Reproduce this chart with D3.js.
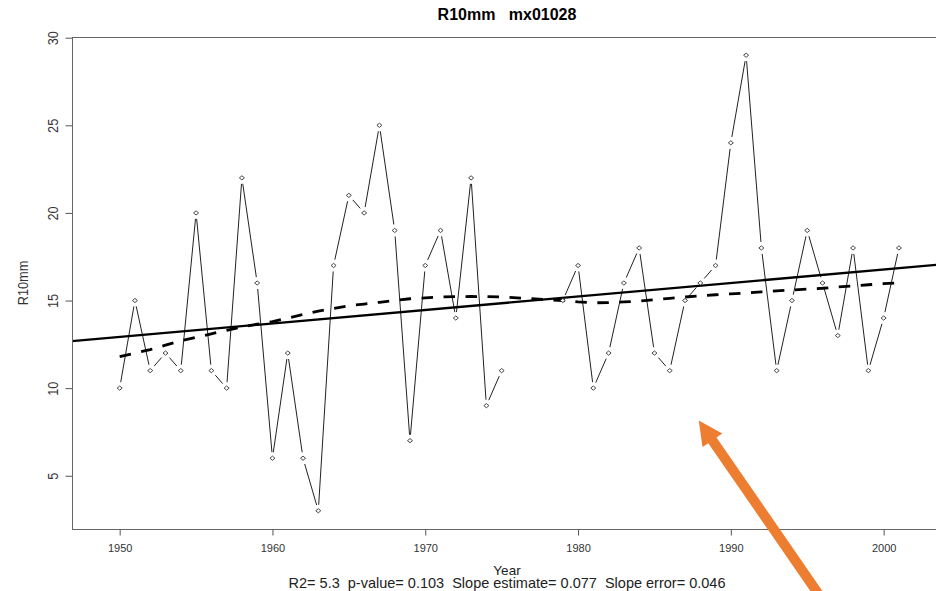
<!DOCTYPE html>
<html>
<head>
<meta charset="utf-8">
<script src="https://cdn.jsdelivr.net/npm/d3@7"></script>
<style>
  body { margin: 0; background: #fff; }
  svg { display: block; font-family: "Liberation Sans", Arial, sans-serif; }
</style>
</head>
<body>
<div id="chart"></div>
<script>
// Annual R10mm counts, station mx01028 (1976-1978 missing)
const years = [1950, 1951, 1952, 1953, 1954, 1955, 1956, 1957, 1958, 1959,
               1960, 1961, 1962, 1963, 1964, 1965, 1966, 1967, 1968, 1969,
               1970, 1971, 1972, 1973, 1974, 1975, 1976, 1977, 1978, 1979,
               1980, 1981, 1982, 1983, 1984, 1985, 1986, 1987, 1988, 1989,
               1990, 1991, 1992, 1993, 1994, 1995, 1996, 1997, 1998, 1999,
               2000, 2001];
const r10mm = [10, 15, 11, 12, 11, 20, 11, 10, 22, 16,
               6, 12, 6, 3, 17, 21, 20, 25, 19, 7,
               17, 19, 14, 22, 9, 11, null, null, null, 15,
               17, 10, 12, 16, 18, 12, 11, 15, 16, 17,
               24, 29, 18, 11, 15, 19, 16, 13, 18, 11,
               14, 18];
// lowess smooth (dashed line)
const lowessFit = [11.8, 12.0, 12.2, 12.45, 12.7, 12.9, 13.1, 13.3, 13.5, 13.65,
                   13.8, 14.0, 14.2, 14.4, 14.55, 14.7, 14.8, 14.9, 15.0, 15.1,
                   15.15, 15.2, 15.22, 15.23, 15.22, 15.2, null, null, null, 15.0,
                   14.92, 14.87, 14.88, 14.92, 14.97, 15.05, 15.12, 15.2, 15.27, 15.33,
                   15.38, 15.43, 15.49, 15.55, 15.6, 15.65, 15.7, 15.77, 15.84, 15.9,
                   15.96, 16.0];
// linear trend
const trendAt1950 = 12.92;
const trendSlope = 0.077;

const xTicks = [1950, 1960, 1970, 1980, 1990, 2000];
const yTicks = [5, 10, 15, 20, 25, 30];
const titleText = 'R10mm   mx01028';
const xLabel = 'Year';
const yLabel = 'R10mm';
const statsText = 'R2= 5.3  p-value= 0.103  Slope estimate= 0.077  Slope error= 0.046';

const width = 936, height = 591;
const box = { left: 72, right: 942, top: 37, bottom: 529 };

const x = d3.scaleLinear().domain([1946.88, 2003.82]).range([box.left, box.right]);
const y = d3.scaleLinear().domain([1.96, 30.04]).range([box.bottom, box.top]);

const svg = d3.select('#chart').append('svg')
    .attr('width', width)
    .attr('height', height);

svg.append('defs').append('clipPath')
    .attr('id', 'plot-clip')
    .append('rect')
    .attr('x', box.left).attr('y', box.top)
    .attr('width', box.right - box.left)
    .attr('height', box.bottom - box.top);

const data = years.map((yr, i) => ({ year: yr, value: r10mm[i], fit: lowessFit[i] }));

// Observed series, R type="b": segments with a gap around each point
const gap = 6;
const segs = [];
for (let i = 1; i < data.length; i++) {
    const a = data[i - 1], b = data[i];
    if (a.value == null || b.value == null) continue;
    const x1 = x(a.year), y1 = y(a.value), x2 = x(b.year), y2 = y(b.value);
    const len = Math.hypot(x2 - x1, y2 - y1);
    if (len <= gap * 2) continue;
    const ux = (x2 - x1) / len, uy = (y2 - y1) / len;
    segs.push([x1 + ux * gap, y1 + uy * gap, x2 - ux * gap, y2 - uy * gap]);
}
svg.append('g')
    .selectAll('line')
    .data(segs)
    .enter()
    .append('line')
    .attr('x1', d => d[0]).attr('y1', d => d[1])
    .attr('x2', d => d[2]).attr('y2', d => d[3])
    .attr('stroke', '#222')
    .attr('stroke-width', 1);

// Trend line (abline, clipped to plot region)
const trend = d3.line()
    .x(d => x(d))
    .y(d => y(trendAt1950 + trendSlope * (d - 1950)));
svg.append('path')
    .attr('clip-path', 'url(#plot-clip)')
    .attr('d', trend(x.domain()))
    .attr('fill', 'none')
    .attr('stroke', '#000')
    .attr('stroke-width', 2.3);

// Lowess, dashed
const smooth = d3.line()
    .x(d => x(d.year))
    .y(d => y(d.fit));
svg.append('path')
    .attr('d', smooth(data.filter(d => d.fit != null)))
    .attr('fill', 'none')
    .attr('stroke', '#000')
    .attr('stroke-width', 2.8)
    .attr('stroke-dasharray', '11.5,10.5');

// Points (open diamonds)
svg.append('g')
    .selectAll('path')
    .data(data.filter(d => d.value != null))
    .enter()
    .append('path')
    .attr('transform', d => `translate(${x(d.year)},${y(d.value)})`)
    .attr('d', 'M0,-2.1L2.5,0L0,2.1L-2.5,0Z')
    .attr('fill', '#fff')
    .attr('stroke', '#333')
    .attr('stroke-width', 0.9);

// Plot box (right side falls outside the picture)
svg.append('rect')
    .attr('x', box.left + 0.5).attr('y', box.top + 0.5)
    .attr('width', box.right - box.left)
    .attr('height', box.bottom - box.top)
    .attr('fill', 'none')
    .attr('stroke', '#666')
    .attr('stroke-width', 1);

// Axes
const yAxis = svg.append('g')
    .attr('transform', `translate(${box.left + 0.5},0)`)
    .call(d3.axisLeft(y).tickValues(yTicks).tickSize(7));
yAxis.select('.domain').remove();
yAxis.selectAll('.tick line').attr('stroke', '#555');
yAxis.selectAll('.tick text')
    .attr('x', null).attr('dy', null)
    .attr('text-anchor', 'middle')
    .attr('transform', 'translate(-15,0) rotate(-90) scale(0.85,1)')
    .style('font-size', '15px')
    .attr('fill', '#333');

const xAxis = svg.append('g')
    .attr('transform', `translate(0,${box.bottom + 0.5})`)
    .call(d3.axisBottom(x).tickValues(xTicks).tickSize(6).tickFormat(d3.format('d')));
xAxis.select('.domain').remove();
xAxis.selectAll('.tick line').attr('stroke', '#555');
xAxis.selectAll('.tick text')
    .attr('y', 15)
    .style('font-size', '11px')
    .attr('fill', '#333');
svg.selectAll('.tick text').style('font-family', '"Liberation Sans", Arial, sans-serif');

// Titles and labels
const cx = (box.left + box.right) / 2;
svg.append('text')
    .attr('x', cx).attr('y', 20)
    .attr('text-anchor', 'middle')
    .style('white-space', 'pre')
    .style('font-size', '16px')
    .style('font-weight', 'bold')
    .attr('fill', '#000')
    .text(titleText);

svg.append('text')
    .attr('text-anchor', 'middle')
    .attr('transform', `translate(28,${(box.top + box.bottom) / 2}) rotate(-90) scale(0.85,1)`)
    .style('font-size', '15px')
    .attr('fill', '#333')
    .text(yLabel);

svg.append('text')
    .attr('x', cx).attr('y', 575)
    .attr('text-anchor', 'middle')
    .style('font-size', '13.5px')
    .attr('fill', '#222')
    .text(xLabel);

svg.append('text')
    .attr('x', cx).attr('y', 588)
    .attr('text-anchor', 'middle')
    .style('white-space', 'pre')
    .style('font-size', '14.5px')
    .attr('fill', '#222')
    .text(statsText);

// Orange annotation arrow
const arrowTip = { year: 1987.9, value: 8.15 };
const dir = { dx: 0.5677, dy: 0.8227 };
const nrm = { dx: -dir.dy, dy: dir.dx };
const tx = x(arrowTip.year), ty = y(arrowTip.value);
const headLen = 24, headHalf = 12, shaftHalf = 5, tailLen = 230;
const bx = tx + dir.dx * headLen, by = ty + dir.dy * headLen;
const ex = tx + dir.dx * tailLen, ey = ty + dir.dy * tailLen;
const pts = [
    [tx, ty],
    [bx + nrm.dx * headHalf, by + nrm.dy * headHalf],
    [bx + nrm.dx * shaftHalf, by + nrm.dy * shaftHalf],
    [ex + nrm.dx * shaftHalf, ey + nrm.dy * shaftHalf],
    [ex - nrm.dx * shaftHalf, ey - nrm.dy * shaftHalf],
    [bx - nrm.dx * shaftHalf, by - nrm.dy * shaftHalf],
    [bx - nrm.dx * headHalf, by - nrm.dy * headHalf]
];
svg.append('path')
    .attr('d', 'M' + pts.map(p => p.join(',')).join('L') + 'Z')
    .attr('fill', '#ED7D31');
</script>
</body>
</html>
